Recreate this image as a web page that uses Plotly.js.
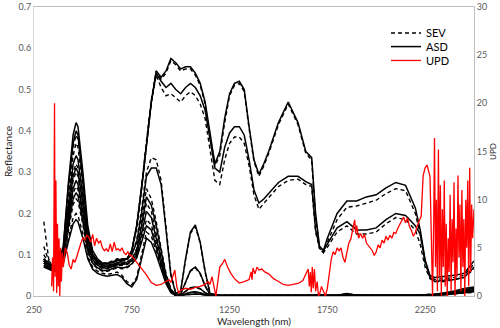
<!DOCTYPE html>
<html>
<head>
<meta charset="utf-8">
<script src="https://cdn.plot.ly/plotly-3.0.1.min.js"></script>
<style>
html,body{margin:0;padding:0;background:#fff}
#chart{width:500px;height:328px}
</style>
</head>
<body>
<div id="chart"></div>
<script>
// wavelength grids (nm)
const wlA = [300,325,350,375,400,425,450,465,475,500,525,550,575,600,650,700,725,750,775,800,825,850,875,900,
  925,950,975,1000,1025,1050,1075,1100,1125,1150,1175,1200,1225,1250,1275,1300,1325,1350,1375,1400,
  1425,1450,1500,1550,1600,1640,1670,1690,1710,1730,1750,1800,1850,1900,1950,2000,2050,2100,2150,2200,
  2225,2250,2275,2300,2350,2400,2450,2500];
const wlB = [300,325,350,375,400,425,450,465,475,500,525,550,575,600,625,650,675,700,725,750,
  775,800,825,850,875,900,925,950,975,1000,1025,1050,1075,1100,1125,1150,1200,1500,1800,1850,
  1900,2200,2300,2350,2400,2450,2500];

// bright samples - ASD (solid) and SEV (dashed)
const asdA1 = [0.09,0.08,0.07,0.08,0.12,0.27,0.39,0.42,0.41,0.30,0.17,0.11,0.09,0.08,0.08,0.09,0.09,0.11,0.17,0.26,0.37,0.47,0.545,0.53,
  0.545,0.575,0.565,0.55,0.555,0.555,0.54,0.515,0.47,0.39,0.32,0.35,0.43,0.49,0.515,0.52,0.5,0.41,0.33,0.295,
  0.32,0.35,0.42,0.47,0.42,0.35,0.335,0.2,0.12,0.11,0.14,0.2,0.23,0.23,0.24,0.245,0.262,0.275,0.268,0.213,
  0.16,0.087,0.05,0.045,0.048,0.05,0.055,0.085];
const sevA1 = [0.18,0.09,0.065,0.07,0.11,0.25,0.36,0.39,0.38,0.28,0.16,0.1,0.085,0.075,0.075,0.085,0.088,0.11,0.17,0.265,0.375,0.475,0.545,0.525,
  0.54,0.57,0.56,0.545,0.55,0.55,0.535,0.51,0.465,0.385,0.315,0.34,0.42,0.485,0.51,0.515,0.495,0.405,0.325,0.29,
  0.315,0.345,0.415,0.465,0.415,0.345,0.33,0.19,0.115,0.105,0.13,0.185,0.215,0.218,0.225,0.232,0.248,0.26,0.255,0.2,
  0.15,0.08,0.045,0.04,0.042,0.045,0.05,0.078];
const asdA2 = [0.085,0.075,0.07,0.08,0.12,0.26,0.37,0.40,0.39,0.28,0.16,0.1,0.085,0.075,0.075,0.085,0.09,0.11,0.17,0.26,0.37,0.47,0.54,0.52,
  0.505,0.515,0.5,0.49,0.505,0.515,0.505,0.485,0.45,0.38,0.31,0.3,0.36,0.395,0.41,0.41,0.39,0.33,0.257,0.225,
  0.235,0.248,0.275,0.29,0.29,0.277,0.27,0.16,0.12,0.11,0.125,0.165,0.18,0.16,0.16,0.165,0.185,0.2,0.195,0.17,
  0.15,0.085,0.045,0.035,0.038,0.04,0.045,0.07];
const sevA2 = [0.1,0.08,0.06,0.065,0.1,0.23,0.34,0.37,0.36,0.26,0.15,0.095,0.08,0.07,0.07,0.08,0.085,0.105,0.165,0.26,0.37,0.47,0.535,0.505,
  0.485,0.49,0.48,0.47,0.485,0.495,0.485,0.465,0.43,0.36,0.28,0.27,0.33,0.37,0.385,0.385,0.37,0.315,0.245,0.21,
  0.225,0.238,0.265,0.28,0.283,0.27,0.265,0.155,0.115,0.105,0.118,0.155,0.17,0.15,0.15,0.155,0.175,0.19,0.185,0.16,
  0.125,0.07,0.042,0.035,0.035,0.04,0.045,0.065];

// dark samples - ASD (solid) and SEV (dashed)
const asdB1 = [0.085,0.075,0.07,0.075,0.11,0.22,0.32,0.34,0.33,0.24,0.14,0.1,0.085,0.078,0.078,0.082,0.088,0.086,0.09,0.1,
  0.13,0.2,0.29,0.31,0.31,0.27,0.16,0.05,0.006,0.012,0.09,0.155,0.172,0.13,0.06,0.006,0.002,0.002,0.002,0.006,
  0.002,0.002,0.004,0.008,0.012,0.018,0.022];
const sevB1 = [0.12,0.085,0.075,0.07,0.1,0.2,0.3,0.32,0.31,0.23,0.14,0.1,0.085,0.078,0.08,0.085,0.09,0.088,0.09,0.1,
  0.135,0.21,0.3,0.335,0.33,0.28,0.17,0.055,0.006,0.012,0.088,0.152,0.168,0.128,0.058,0.006,0.002,0.002,0.002,0.005,
  0.002,0.002,0.004,0.006,0.01,0.015,0.02];
const asdB2 = [0.08,0.07,0.065,0.07,0.1,0.2,0.29,0.31,0.3,0.22,0.13,0.095,0.08,0.072,0.072,0.076,0.08,0.08,0.082,0.09,
  0.11,0.17,0.24,0.22,0.17,0.11,0.05,0.015,0.003,0.005,0.035,0.062,0.07,0.055,0.025,0.003,0.001,0.001,0.001,0.004,
  0.001,0.001,0.003,0.006,0.01,0.014,0.018];
const sevB2 = [0.09,0.075,0.065,0.068,0.095,0.19,0.28,0.3,0.29,0.21,0.125,0.09,0.078,0.07,0.07,0.075,0.078,0.078,0.08,0.088,
  0.115,0.185,0.26,0.235,0.18,0.115,0.055,0.017,0.003,0.005,0.033,0.06,0.068,0.053,0.024,0.003,0.001,0.001,0.001,0.004,
  0.001,0.001,0.003,0.005,0.009,0.013,0.016];
const asdB3 = [0.075,0.068,0.062,0.068,0.095,0.18,0.26,0.28,0.27,0.2,0.12,0.088,0.075,0.068,0.068,0.072,0.076,0.076,0.078,0.085,
  0.1,0.15,0.205,0.19,0.14,0.09,0.04,0.012,0.002,0.003,0.012,0.02,0.022,0.018,0.008,0.002,0.001,0.001,0.001,0.003,
  0.001,0.001,0.002,0.005,0.008,0.012,0.015];
const sevB3 = [0.085,0.07,0.062,0.066,0.09,0.175,0.25,0.265,0.258,0.19,0.115,0.085,0.073,0.066,0.066,0.07,0.074,0.074,0.076,0.083,
  0.105,0.165,0.225,0.205,0.15,0.095,0.043,0.013,0.002,0.003,0.011,0.019,0.021,0.017,0.008,0.002,0.001,0.001,0.001,0.003,
  0.001,0.001,0.002,0.004,0.007,0.011,0.014];
const asdB4 = [0.072,0.066,0.06,0.065,0.09,0.165,0.235,0.25,0.243,0.18,0.11,0.08,0.068,0.062,0.062,0.066,0.07,0.068,0.07,0.078,
  0.092,0.13,0.17,0.16,0.12,0.08,0.035,0.01,0.001,0.002,0.006,0.009,0.01,0.008,0.004,0.001,0.001,0.001,0.001,0.003,
  0.001,0.001,0.002,0.004,0.007,0.01,0.013];
const sevB4 = [0.08,0.068,0.06,0.064,0.088,0.158,0.222,0.235,0.23,0.172,0.106,0.078,0.066,0.06,0.06,0.064,0.068,0.066,0.068,0.076,
  0.095,0.14,0.185,0.172,0.128,0.085,0.038,0.011,0.001,0.002,0.005,0.008,0.009,0.007,0.003,0.001,0.001,0.001,0.001,0.002,
  0.001,0.001,0.002,0.003,0.006,0.009,0.012];
const asdB5 = [0.07,0.065,0.06,0.062,0.08,0.13,0.175,0.185,0.18,0.14,0.09,0.065,0.055,0.05,0.048,0.05,0.052,0.045,0.03,0.022,
  0.04,0.09,0.14,0.13,0.1,0.065,0.03,0.008,0.001,0.002,0.003,0.004,0.005,0.004,0.002,0.001,0.001,0.001,0.001,0.002,
  0.001,0.001,0.002,0.003,0.005,0.008,0.01];
const sevB5 = [0.09,0.07,0.062,0.065,0.085,0.14,0.19,0.2,0.195,0.15,0.095,0.07,0.06,0.055,0.052,0.055,0.058,0.05,0.035,0.027,
  0.045,0.1,0.155,0.145,0.11,0.07,0.035,0.01,0.001,0.002,0.003,0.004,0.005,0.004,0.002,0.001,0.001,0.001,0.001,0.002,
  0.001,0.001,0.002,0.003,0.005,0.007,0.009];

// UPD (right axis)
const wlU = [340,345,350,355,358,362,366,370,374,378,382,386,390,395,400,410,420,430,440,450,460,470,480,490,500,
  510,520,530,540,550,560,570,580,590,600,610,620,630,640,650,660,670,680,690,700,710,720,730,740,750,760,775,
  800,825,850,875,900,925,940,950,960,970,980,990,1000,1025,1050,1075,1100,1125,1140,1150,1160,1170,1180,1190,
  1200,1215,1225,1240,1255,1275,1300,1325,1350,1360,1365,1370,1380,1390,1400,1415,1430,1450,1475,1500,1525,
  1550,1575,1600,1625,1640,1652,1658,1663,1668,1673,1678,1684,1690,1698,1705,1712,1720,1730,1740,1750,1760,
  1770,1780,1790,1800,1810,1820,1830,1840,1850,1860,1870,1880,1890,1895,1900,1910,1920,1930,1940,1950,1960,
  1970,1980,1990,2000,2010,2020,2030,2040,2050,2060,2070,2080,2090,2100,2110,2120,2130,2140,2150,2160,2170,
  2180,2190,2200,2210,2220,2230,2240,2250,2260,2268,2275,2282,2288,2294,2298,2303,2308,2313,2318,2323,2328,
  2333,2338,2343,2348,2353,2358,2363,2368,2373,2378,2383,2388,2393,2398,2403,2408,2413,2418,2423,2428,2433,
  2438,2443,2448,2453,2458,2463,2468,2473,2478,2483,2488,2493,2500];
const upd = [1.0,4.0,0.5,20.0,2.0,12.0,0.3,7.5,1.0,6.0,0.0,5.0,1.5,4.5,3.0,5.0,4.5,3.2,2.8,3.8,3.5,4.2,4.8,5.5,6.0,
  5.8,6.3,6.1,5.6,6.4,5.2,6.0,5.5,5.7,5.0,4.7,4.9,4.6,5.4,4.6,5.6,4.8,4.9,4.7,5.0,4.5,4.3,4.6,4.2,4.2,3.9,3.5,
  2.9,2.2,1.4,1.1,1.2,1.5,1.7,1.4,2.2,2.7,1.0,0.3,0.6,0.8,0.7,0.9,1.0,1.2,1.5,1.2,2.0,0.8,0.0,1.5,
  3.0,3.4,3.8,3.0,2.4,1.8,1.35,1.5,1.7,2.5,1.7,2.9,2.3,3.0,2.7,2.8,2.5,2.3,1.8,1.5,1.2,
  1.1,1.2,1.3,1.6,2.2,2.8,1.0,2.5,0.4,3.0,0.8,2.8,0.5,1.5,0.0,0.3,1.0,0.5,0.0,0.8,2.4,
  3.8,4.6,4.3,5.0,4.7,5.0,4.0,3.5,4.6,5.5,5.9,6.8,7.9,6.5,7.3,6.0,6.5,6.0,6.4,5.5,5.2,
  5.0,4.7,4.2,4.6,5.3,5.0,5.8,5.5,6.2,5.8,6.3,6.0,6.6,6.5,7.0,7.4,7.9,8.2,7.6,8.1,7.2,
  6.8,6.2,6.6,7.3,7.9,8.3,12.5,13.3,13.6,13.0,12.4,6.0,0.0,8.0,16.4,3.0,10.0,0.5,15.2,2.0,11.5,
  0.0,9.0,3.0,12.0,1.0,7.5,0.0,6.0,2.5,10.5,0.5,8.0,3.5,11.8,0.0,7.0,2.0,12.5,4.0,9.5,0.5,
  11.0,3.0,8.0,0.0,10.0,5.0,12.0,1.0,13.3,2.5,9.5,6.0,9.0];

const asdSet = [asdA1, asdA2];
const sevSet = [sevA1, sevA2];
const asdSetB = [asdB1, asdB2, asdB3, asdB4, asdB5];
const sevSetB = [sevB1, sevB2, sevB3, sevB4, sevB5];

let traces = [];
function addPair(wl, asd, sev, first) {
  traces.push({x: wl, y: sev, mode: 'lines', name: 'SEV', legend: 'legend',
    showlegend: first, line: {color: '#000', width: 1.4, dash: '4px,3px'}});
  traces.push({x: wl, y: asd, mode: 'lines', name: 'ASD', legend: 'legend2',
    showlegend: first, line: {color: '#000', width: 1.5}});
}
asdSetB.forEach((a, i) => addPair(wlB, a, sevSetB[i], false));
asdSet.forEach((a, i) => addPair(wlA, a, sevSet[i], i === 0));
traces.push({x: wlU, y: upd, yaxis: 'y2', mode: 'lines', name: 'UPD', legend: 'legend3',
  line: {color: '#ff0000', width: 1.3}});

const tickFont = {family: 'Lato, sans-serif', size: 9, color: '#595959'};
const legBase = {x: 0.8, xanchor: 'left', yanchor: 'middle', bgcolor: 'rgba(0,0,0,0)',
  font: {family: 'Lato, sans-serif', size: 11, color: '#000'}};

Plotly.newPlot('chart', traces, {
  width: 500, height: 328,
  margin: {l: 34, r: 26, t: 7, b: 32},
  paper_bgcolor: '#fff', plot_bgcolor: '#fff',
  xaxis: {
    range: [250, 2500], tick0: 250, dtick: 500, showgrid: false, zeroline: false,
    showline: true, mirror: true, linecolor: '#bfbfbf', linewidth: 1, ticks: '',
    ticklabelstandoff: 5, tickfont: tickFont,
    title: {text: 'Wavelength (nm)', font: {family: 'Lato, sans-serif', size: 10, color: '#262626'}, standoff: 3}
  },
  yaxis: {
    range: [0, 0.7], dtick: 0.1, showgrid: false, zeroline: false,
    showline: true, linecolor: '#d9d9d9', ticks: '', tickfont: tickFont,
    title: {text: 'Reflectance', font: {family: 'Lato, sans-serif', size: 10, color: '#262626'}, standoff: 4}
  },
  yaxis2: {
    range: [0, 30], dtick: 5, overlaying: 'y', side: 'right', showgrid: false, zeroline: false,
    showline: true, linecolor: '#bfbfbf', ticks: '', tickfont: tickFont,
    title: {text: 'UPD', font: {family: 'Lato, sans-serif', size: 8, color: '#262626'}, standoff: 4}
  },
  legend: Object.assign({y: 0.91}, legBase),
  legend2: Object.assign({y: 0.863}, legBase),
  legend3: Object.assign({y: 0.815}, legBase)
}, {displayModeBar: false});
</script>
</body>
</html>
